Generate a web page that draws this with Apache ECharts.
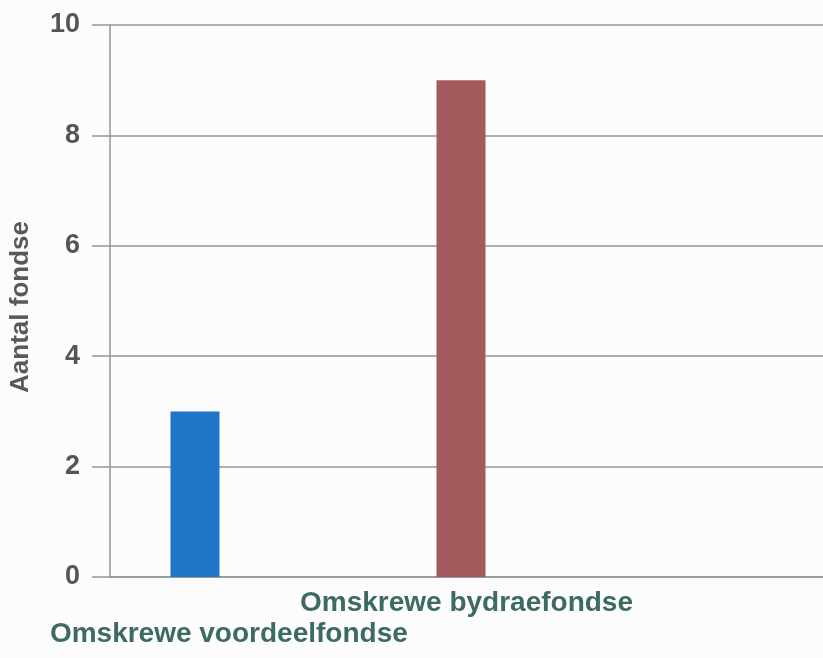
<!DOCTYPE html>
<html>
<head>
<meta charset="utf-8">
<script src="https://cdn.jsdelivr.net/npm/echarts@6/dist/echarts.min.js"></script>
<style>
html,body{margin:0;padding:0;background:#fcfcfc;}
#chart{width:823px;height:658px;}
</style>
</head>
<body>
<div id="chart"></div>
<script>
// Data
const categories = ["Omskrewe voordeelfondse", "Omskrewe bydraefondse"];
const values = [3, 9];
const barColors = ["#1f75c6", "#a35a5c"];
const yTicks = { min: 0, max: 10, interval: 2 };
const yTitle = "Aantal fondse";

const FONT = "'Liberation Sans', Arial, sans-serif";
const chart = echarts.init(document.getElementById('chart'), null, { renderer: 'canvas' });

const option = {
  backgroundColor: '#fcfcfc',
  animation: false,
  grid: [
    { left: 110, right: -19, top: 25, bottom: 81, containLabel: false },
    { left: 62, width: 532, top: 25, bottom: 81, containLabel: false }
  ],
  xAxis: [
    {
      type: 'category', gridIndex: 0, data: categories, max: 2,
      boundaryGap: true,
      axisLine: { show: true, lineStyle: { color: '#8f9894', width: 1.5 } },
      axisTick: { show: false },
      splitLine: { show: false },
      axisLabel: {
        interval: 0, margin: 11, fontFamily: FONT, fontSize: 28, fontWeight: 'bold',
        color: '#3d6b61', lineHeight: 31,
        formatter: function (v, i) { return i % 2 === 0 ? '\n' + v : v; }
      }
    },
    { type: 'category', gridIndex: 1, data: categories, show: false }
  ],
  yAxis: [
    {
      type: 'value', gridIndex: 0, min: yTicks.min, max: yTicks.max, interval: yTicks.interval,
      name: yTitle, nameLocation: 'middle', nameGap: 76,
      nameTextStyle: { fontFamily: FONT, fontSize: 26, fontWeight: 'bold', color: '#595959', padding: [0, 12, 0, 0] },
      axisLine: { show: true, lineStyle: { color: '#8f9894', width: 1.5 } },
      axisTick: { show: true, length: 18, lineStyle: { color: '#8f9894', width: 1.5 } },
      splitLine: { show: true, lineStyle: { color: '#8f9894', width: 1.5 } },
      axisLabel: { margin: 30, fontFamily: FONT, fontSize: 27, fontWeight: 'bold', color: '#555555' }
    },
    { type: 'value', gridIndex: 1, min: yTicks.min, max: yTicks.max, show: false }
  ],
  series: [
    {
      type: 'bar', xAxisIndex: 1, yAxisIndex: 1, barWidth: 49,
      data: values.map((v, i) => ({ value: v, itemStyle: { color: barColors[i] } }))
    }
  ]
};
chart.setOption(option);
</script>
</body>
</html>
